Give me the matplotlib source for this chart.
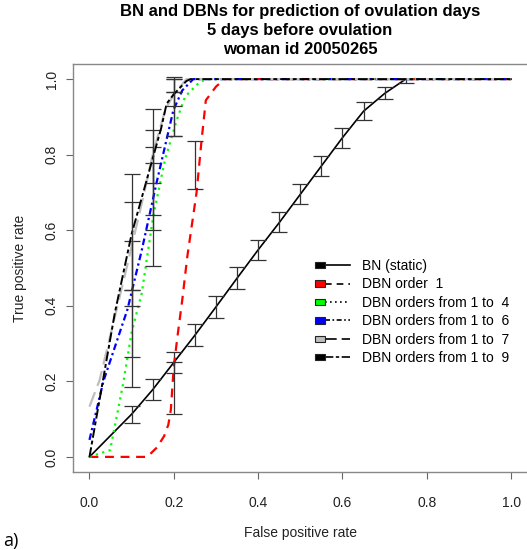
import numpy as np
import matplotlib
matplotlib.use("Agg")
import matplotlib.pyplot as plt
from matplotlib.lines import Line2D
from matplotlib.patches import Rectangle

plt.rcParams['font.family'] = ['Liberation Sans', 'DejaVu Sans']

title_lines = ["BN and DBNs for prediction of ovulation days",
               "5 days before ovulation",
               "woman id 20050265"]

# BN (static)
bn_fpr = [0, 0.1, 0.15, 0.2, 0.25, 0.3, 0.35, 0.4, 0.45, 0.5, 0.55, 0.6, 0.65, 0.7, 0.75, 1.0]
bn_tpr = [0, 0.113, 0.178, 0.25, 0.322, 0.397, 0.473, 0.548, 0.62, 0.695, 0.77, 0.845, 0.915, 0.962, 1.0, 1.0]
bn_err_x = [0.1, 0.15, 0.2, 0.25, 0.3, 0.35, 0.4, 0.45, 0.5, 0.55, 0.6, 0.65, 0.7, 0.75]
bn_err_lo = [0.091, 0.150, 0.223, 0.293, 0.368, 0.444, 0.52, 0.594, 0.669, 0.744, 0.818, 0.891, 0.947, 0.99]
bn_err_hi = [0.135, 0.206, 0.277, 0.351, 0.426, 0.502, 0.574, 0.649, 0.722, 0.797, 0.871, 0.939, 0.978, 1.0]

# DBN order 1
o1_fpr = [0, 0.137, 0.16, 0.177, 0.187, 0.193, 0.2, 0.21, 0.22, 0.232, 0.254, 0.266, 0.276, 0.3, 0.32, 1.0]
o1_tpr = [0, 0, 0.025, 0.055, 0.085, 0.125, 0.24, 0.33, 0.415, 0.53, 0.70, 0.84, 0.944, 0.98, 1.0, 1.0]
o1_err_x = [0.2, 0.25]
o1_err_lo = [0.113, 0.709]
o1_err_hi = [0.252, 0.836]

# DBN orders 1 to 4
o4_fpr = [0, 0.049, 0.08, 0.1, 0.124, 0.151, 0.179, 0.207, 0.227, 0.262, 0.28, 1.0]
o4_tpr = [0, 0.018, 0.195, 0.33, 0.433, 0.636, 0.786, 0.892, 0.954, 0.993, 1.0, 1.0]
o4_err_x = [0.1, 0.15, 0.2]
o4_err_lo = [0.185, 0.505, 0.85]
o4_err_hi = [0.443, 0.777, 0.967]

# DBN orders 1 to 6
o6_fpr = [0, 0.033, 0.09, 0.124, 0.159, 0.199, 0.22, 0.246, 1.0]
o6_tpr = [0.045, 0.2, 0.39, 0.547, 0.725, 0.918, 0.97, 1.0, 1.0]
o6_err_x = [0.1, 0.15, 0.2]
o6_err_lo = [0.265, 0.6, 0.85]
o6_err_hi = [0.572, 0.82, 0.999]

# DBN orders 1 to 7
o7_fpr = [0, 0.024, 0.088, 0.128, 0.15, 0.18, 0.2, 0.23, 1.0]
o7_tpr = [0.133, 0.203, 0.5, 0.69, 0.8, 0.92, 0.96, 1.0, 1.0]
o7_err_x = [0.1, 0.15, 0.2]
o7_err_lo = [0.40, 0.64, 0.967]
o7_err_hi = [0.674, 0.864, 0.999]

# DBN orders 1 to 9
o9_fpr = [0, 0.06, 0.1, 0.145, 0.17, 0.183, 0.2, 0.23, 0.24, 1.0]
o9_tpr = [0, 0.38, 0.59, 0.77, 0.87, 0.935, 0.96, 0.995, 1.0, 1.0]
o9_err_x = [0.1, 0.15, 0.2]
o9_err_lo = [0.443, 0.724, 0.929]
o9_err_hi = [0.749, 0.92, 1.006]

labels = ["BN (static)", "DBN order  1", "DBN orders from 1 to  4",
          "DBN orders from 1 to  6", "DBN orders from 1 to  7", "DBN orders from 1 to  9"]
box_colors = ['black', 'red', '#00ff00', 'blue', '#bebebe', 'black']
line_colors = ['black', 'red', '#00ff00', 'blue', '#bebebe', 'black']
dashes = [None, (4, 3), (1, 2), (3, 1.5, 1, 1.5), (7, 3), (5, 1.5, 2, 1.5)]
widths = [1.2, 1.6, 1.6, 1.6, 1.6, 1.4]

series = [(bn_fpr, bn_tpr, bn_err_x, bn_err_lo, bn_err_hi),
          (o1_fpr, o1_tpr, o1_err_x, o1_err_lo, o1_err_hi),
          (o4_fpr, o4_tpr, o4_err_x, o4_err_lo, o4_err_hi),
          (o6_fpr, o6_tpr, o6_err_x, o6_err_lo, o6_err_hi),
          (o7_fpr, o7_tpr, o7_err_x, o7_err_lo, o7_err_hi),
          (o9_fpr, o9_tpr, o9_err_x, o9_err_lo, o9_err_hi)]


class BoxLineHandler:
    # filled box on the left, black line after it (R legend style)
    def legend_artist(self, legend, orig_handle, fontsize, handlebox):
        x0, y0 = handlebox.xdescent, handlebox.ydescent
        w, h = handlebox.width, handlebox.height
        tr = handlebox.get_transform()
        bw = 0.28 * w
        ln = Line2D([x0 + bw, x0 + w], [y0 + h / 2] * 2)
        ln.update_from(orig_handle)
        ln.set_marker('None')
        ln.set_color('black')
        ln.set_transform(tr)
        box = Rectangle((x0, y0 + h / 2 - 0.45 * bw / 1.4), bw, 0.9 * bw / 1.4,
                        facecolor=orig_handle.get_markerfacecolor(),
                        edgecolor='#222222', lw=0.8, transform=tr)
        handlebox.add_artist(ln)
        handlebox.add_artist(box)
        return box


W, H = 527, 550
fig = plt.figure(figsize=(W / 100, H / 100), dpi=100)
ax = fig.add_axes([72.6 / W, 1 - 472 / H, (528 - 72.6) / W, (472 - 64) / H])

for i, (fx, ty, ex, lo, hi) in enumerate(series):
    kw = dict(color=line_colors[i], lw=widths[i])
    if dashes[i] is not None:
        kw['dashes'] = dashes[i]
    ax.plot(fx, ty, **kw)
    lo = np.array(lo)
    hi = np.array(hi)
    mid = (lo + hi) / 2
    ax.errorbar(ex, mid, yerr=(hi - lo) / 2, fmt='none', ecolor='#333333',
                elinewidth=0.9, capsize=6, capthick=0.9)

ax.set_xlim(-0.04, 1.04)
ax.set_ylim(-0.04, 1.04)
ticks = [0.0, 0.2, 0.4, 0.6, 0.8, 1.0]
ax.set_xticks(ticks)
ax.set_yticks(ticks)
ax.set_xticklabels([f"{t:.1f}" for t in ticks])
ax.set_yticklabels([f"{t:.1f}" for t in ticks], rotation=90, va='center')
ax.tick_params(direction='out', length=5, width=0.8, color='#666666',
               labelsize=10, labelcolor='#222222')
ax.tick_params(axis='x', pad=12)
ax.tick_params(axis='y', pad=5)
for s in ax.spines.values():
    s.set_color('#888888')
    s.set_linewidth(1.0)

ax.set_xlabel("False positive rate", fontsize=10, color='#222222')
ax.xaxis.set_label_coords(0.5, (472 - 533) / 408)
ax.xaxis.label.set_va('center')
ax.set_ylabel("True positive rate", fontsize=10, color='#222222')
ax.yaxis.set_label_coords((20 - 72.6) / 455.4, 0.5)
ax.yaxis.label.set_va('center')

title_y = [11.7, 30.7, 50]
for line, yp in zip(title_lines, title_y):
    fig.text(300 / W, 1 - yp / H, line, ha='center', va='center',
             fontsize=12, fontweight='bold')

handles = []
for i in range(len(labels)):
    hk = dict(color='black', marker='s', markerfacecolor=box_colors[i], lw=1.2)
    if dashes[i] is not None:
        hk['dashes'] = dashes[i]
    handles.append(Line2D([], [], **hk))
handler = BoxLineHandler()
ax.legend(handles, labels, handler_map={h: handler for h in handles},
          loc='upper left', bbox_to_anchor=((315 - 72.6) / 455.4, (472 - 259) / 408),
          frameon=False, fontsize=10, handlelength=2.5, handletextpad=0.9,
          labelspacing=0.32, borderpad=0, borderaxespad=0)

fig.text(3 / W, 4 / H, "a)", fontsize=13, family=['Open Sans', 'DejaVu Sans'],
         ha='left', va='baseline')

fig.savefig("out.png", dpi=100)
